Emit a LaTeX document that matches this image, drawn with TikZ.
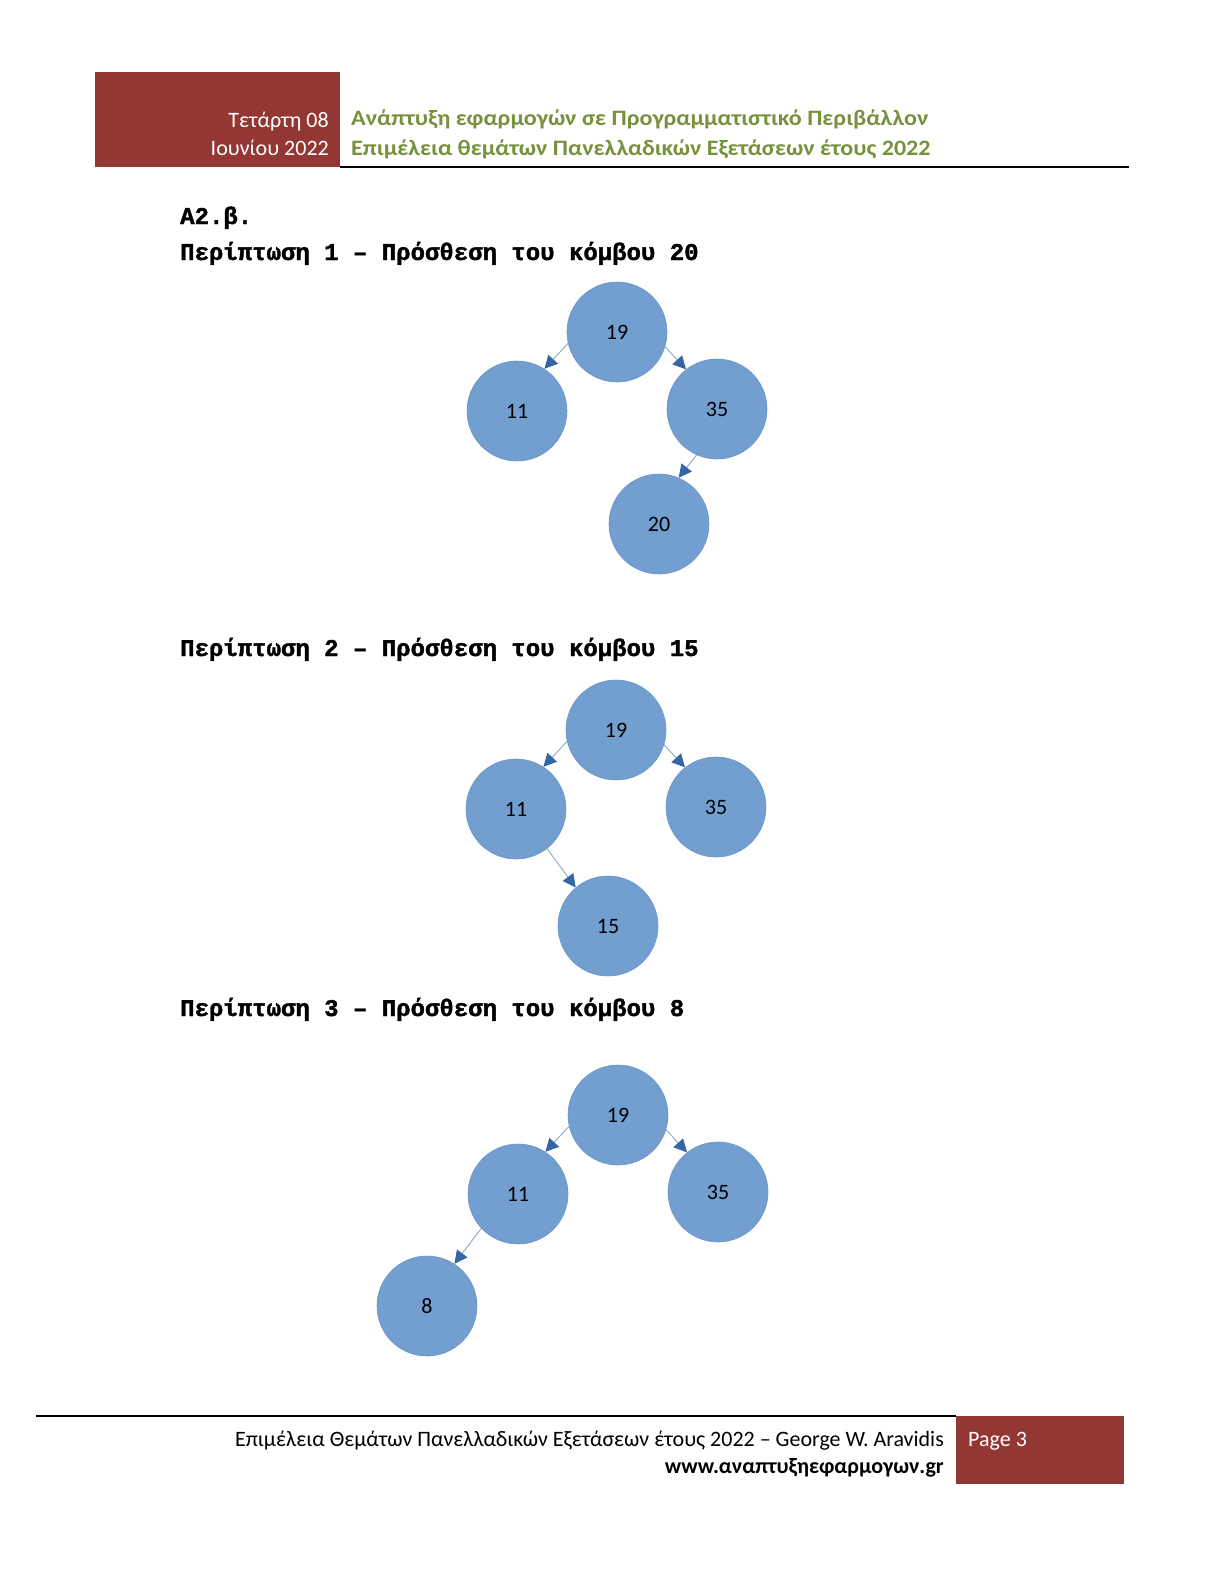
\documentclass[tikz,border=0pt]{standalone}
\usepackage{fontspec}
\setmainfont{Carlito}
\newfontfamily\monob{Liberation Mono}[BoldFeatures={FakeBold=1.6}]
\newfontfamily\greenfont{Carlito}[FakeStretch=1.095]
\usetikzlibrary{arrows.meta}
\definecolor{hdrred}{HTML}{943634}
\definecolor{hdrgreen}{HTML}{76923C}
\definecolor{nodefill}{HTML}{729FCF}
\definecolor{nodeline}{HTML}{6A95C8}
\definecolor{edgeline}{HTML}{8FA6C2}
\definecolor{tipblue}{HTML}{3465A4}
\tikzset{
  treenode/.style={circle,fill=nodefill,draw=nodeline,line width=0.6pt,minimum size=100pt,inner sep=0pt,font=\fontsize{22pt}{24pt}\selectfont,text=black},
  treeedge/.style={draw=edgeline,line width=0.9pt,-{Triangle[length=13pt,width=13pt,fill=tipblue,color=tipblue]}},
  heading/.style={anchor=base west,inner sep=0pt,font=\monob\bfseries\fontsize{24pt}{26pt}\selectfont},
  hdrtext/.style={inner sep=0pt,font=\fontsize{22pt}{24pt}\selectfont},
  foottext/.style={inner sep=0pt,font=\fontsize{22pt}{24pt}\selectfont}
}
\begin{document}
\begin{tikzpicture}[x=1pt,y=-1pt]
\useasboundingbox[fill=white] (0,0) rectangle (1224,1584);
% header
\fill[hdrred] (95,72) rectangle (340,167);
\draw[line width=1.2pt] (340,167) -- (1129,167);
\node[hdrtext,anchor=base east,text=white] (hd1) at (329,128) {Τετάρτη 08};
\node[hdrtext,anchor=base east,text=white] (hd2) at (329,155) {Ιουνίου 2022};
\node[hdrtext,anchor=base west,text=hdrgreen] (ht1) at (351,126) {\greenfont\bfseries Ανάπτυξη εφαρμογών σε Προγραμματιστικό Περιβάλλον};
\node[hdrtext,anchor=base west,text=hdrgreen] (ht2) at (351,155) {\greenfont\bfseries Επιμέλεια θεμάτων Πανελλαδικών Εξετάσεων έτους 2022};
% headings
\node[heading] (h0) at (180,224) {Α2.β.};
\node[heading] (h1) at (180,260) {Περίπτωση 1 – Πρόσθεση του κόμβου 20};
\node[heading] (h2) at (180,656) {Περίπτωση 2 – Πρόσθεση του κόμβου 15};
\node[heading] (h3) at (180,1016) {Περίπτωση 3 – Πρόσθεση του κόμβου 8};
% tree 1
\node[treenode] (a19) at (617,332) {19};
\node[treenode] (a11) at (517,411) {11};
\node[treenode] (a35) at (717,409) {35};
\node[treenode] (a20) at (659,524) {20};
\draw[treeedge] (a19.193) -- (a11.57);
\draw[treeedge] (a19.343) -- (a35.128);
\draw[treeedge] (a35.246) -- (a20.67);
% tree 2
\node[treenode] (b19) at (616,730) {19};
\node[treenode] (b11) at (516,809) {11};
\node[treenode] (b35) at (716,807) {35};
\node[treenode] (b15) at (608,926) {15};
\draw[treeedge] (b19.193) -- (b11.57);
\draw[treeedge] (b19.343) -- (b35.128);
\draw[treeedge] (b11.308) -- (b15.130);
% tree 3
\node[treenode] (c19) at (618,1115) {19};
\node[treenode] (c11) at (518,1194) {11};
\node[treenode] (c35) at (718,1192) {35};
\node[treenode] (c8) at (427,1306) {8};
\draw[treeedge] (c19.193) -- (c11.57);
\draw[treeedge] (c19.343) -- (c35.128);
\draw[treeedge] (c11.223) -- (c8.57);
% footer
\draw[line width=1.2pt] (36,1416) -- (956,1416);
\fill[hdrred] (956,1416) rectangle (1124,1484);
\node[foottext,anchor=base east] (f1) at (944,1446) {Επιμέλεια Θεμάτων Πανελλαδικών Εξετάσεων έτους 2022 – George W. Aravidis};
\node[foottext,anchor=base east] (f2) at (944,1473) {\bfseries www.αναπτυξηεφαρμογων.gr};
\node[foottext,anchor=base west,text=white] (pg) at (968,1446) {Page 3};
\end{tikzpicture}
\end{document}
